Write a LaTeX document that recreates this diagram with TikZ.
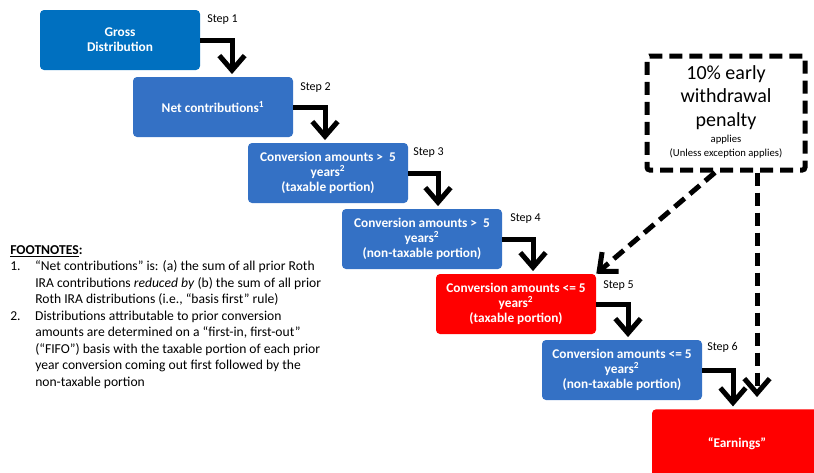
\documentclass[tikz,border=0pt]{standalone}
\usepackage{fontspec}
\setmainfont{Carlito}
\usepackage{tikz}
\usetikzlibrary{positioning,arrows.meta,calc}
\definecolor{darkblue}{RGB}{0,112,192}
\definecolor{midblue}{RGB}{52,113,197}
\definecolor{boxred}{RGB}{255,0,0}

\begin{document}
\begin{tikzpicture}[
  x=0.75pt,
  y=-0.75pt,
  box/.style={
    rectangle,
    rounded corners=3pt,
    fill=midblue,
    text=white,
    font=\fontsize{10}{11}\selectfont\bfseries,
    align=center,
    inner sep=0pt,
    minimum width=120pt,
    minimum height=45pt
  },
  redbox/.style={box,fill=boxred},
  steplabel/.style={anchor=west,inner sep=0pt,font=\fontsize{9}{10}\selectfont},
  steparrow/.style={draw=black,line width=3.75pt,
    -{Straight Barb[length=11pt,width=19pt]},shorten >=2pt},
  penaltyarrow/.style={draw=black,line width=3.75pt,dash pattern=on 9.75pt off 5.25pt,
    -{Straight Barb[length=11pt,width=19pt]}},
  penaltybox/.style={draw=black,line width=3.75pt,dash pattern=on 9.75pt off 5.25pt,
    rounded corners=2pt,minimum width=118.5pt,minimum height=85.5pt,inner sep=0pt}
]
  \useasboundingbox (0,0) rectangle (814,472);

  \node[box,fill=darkblue] (gross) at (120,40) {Gross\\Distribution};
  \node[box] (net)   at (213,107) {Net contributions\textsuperscript{1}};
  \node[box] (conv1) at (328,173) {Conversion amounts >\ \ 5\\years\textsuperscript{2}\\(taxable portion)};
  \node[box] (conv2) at (422,239) {Conversion amounts >\ \ 5\\years\textsuperscript{2}\\(non-taxable portion)};
  \node[redbox] (conv3) at (516,304) {Conversion amounts <= 5\\years\textsuperscript{2}\\(taxable portion)};
  \node[box] (conv4) at (622,370) {Conversion amounts <= 5\\years\textsuperscript{2}\\(non-taxable portion)};
  \node[redbox,minimum width=127.5pt,minimum height=52pt] (earn) at (737,444) {“Earnings”};

  \node[steplabel] (s1) at (207,20)  {Step 1};
  \node[steplabel] (s2) at (300,88)  {Step 2};
  \node[steplabel] (s3) at (413,153) {Step 3};
  \node[steplabel] (s4) at (510,219) {Step 4};
  \node[steplabel] (s5) at (603,286) {Step 5};
  \node[steplabel] (s6) at (707,347) {Step 6};

  % step arrows
  \foreach \a/\b/\s in {gross/net/19, net/conv1/-3, conv1/conv2/16,
                        conv2/conv3/17, conv3/conv4/6, conv4/earn/-4}
    \draw[steparrow] (\a.east) -| ([xshift=\s*0.75pt]\b.north);

  % penalty box
  \node[penaltybox] (pen) at (726,113) {%
    \fontsize{15}{17.5}\selectfont
    \begin{tabular}{@{}c@{}}
      10\% early\\
      withdrawal\\
      penalty\\[-5pt]
      \fontsize{8}{9}\selectfont applies\\[-7.5pt]
      \fontsize{8}{9}\selectfont (Unless exception applies)
    \end{tabular}};

  \draw[penaltyarrow] ([xshift=-11*0.75pt]pen.south) -- (conv3.north east);
  \draw[penaltyarrow,shorten >=9pt] ([xshift=31*0.75pt]pen.south) -- ([xshift=20*0.75pt]earn.north);

  % footnotes
  \node[anchor=north west,inner sep=0pt,align=left,
        font=\fontsize{10.2}{12.4}\selectfont] (fn) at (10,245)
    {\textbf{\underline{FOOTNOTES}:}\\
     \makebox[18.75pt][l]{1.}“Net contributions” is: (a) the sum of all prior Roth\\
     \hspace*{18.75pt}IRA contributions \textit{reduced by} (b) the sum of all prior\\
     \hspace*{18.75pt}Roth IRA distributions (i.e., “basis first” rule)\\
     \makebox[18.75pt][l]{2.}Distributions attributable to prior conversion\\
     \hspace*{18.75pt}amounts are determined on a “first-in, first-out”\\
     \hspace*{18.75pt}(“FIFO”) basis with the taxable portion of each prior\\
     \hspace*{18.75pt}year conversion coming out first followed by the\\
     \hspace*{18.75pt}non-taxable portion};
\end{tikzpicture}
\end{document}
